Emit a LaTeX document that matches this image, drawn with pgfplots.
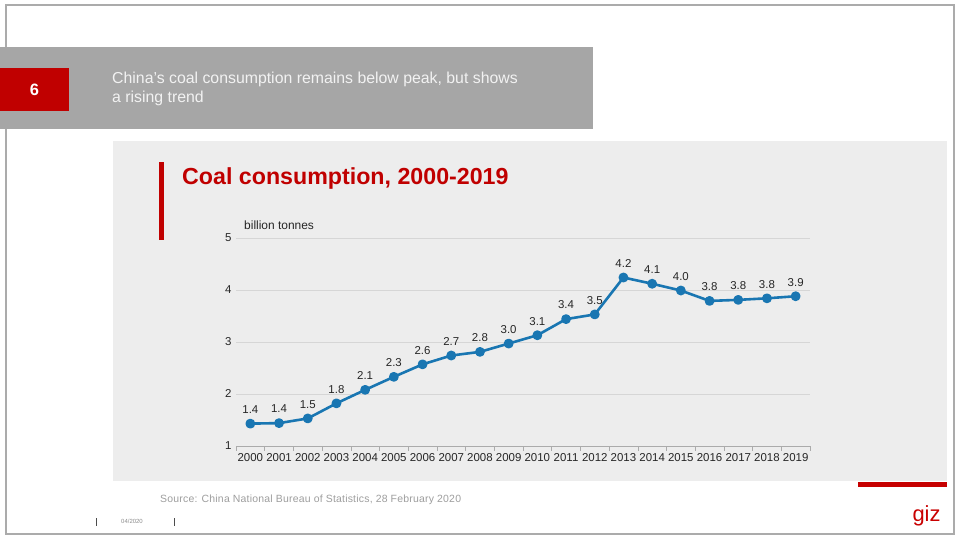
\documentclass[border=0pt]{standalone}
\usepackage{pgfplots}
\pgfplotsset{compat=1.18}
\usepackage{pgfplotstable}
\usepackage{fontspec}
\setmainfont{Liberation Sans}
\definecolor{gizred}{HTML}{C00000}
\definecolor{headgrey}{HTML}{A6A6A6}
\definecolor{panel}{HTML}{EDEDED}
\definecolor{framegrey}{HTML}{ABABAB}
\definecolor{lineblue}{RGB}{25,118,178}
\definecolor{gridgrey}{HTML}{D6D6D6}
\definecolor{txt}{HTML}{262626}
\pgfplotstableread{
x y lab
0 1.43 1.4
1 1.44 1.4
2 1.53 1.5
3 1.82 1.8
4 2.08 2.1
5 2.33 2.3
6 2.57 2.6
7 2.74 2.7
8 2.81 2.8
9 2.97 3.0
10 3.13 3.1
11 3.44 3.4
12 3.53 3.5
13 4.24 4.2
14 4.12 4.1
15 3.99 4.0
16 3.79 3.8
17 3.81 3.8
18 3.84 3.8
19 3.88 3.9
}\coal
\begin{document}
\begin{tikzpicture}[x=1bp,y=1bp]
\useasboundingbox (0,0) rectangle (960,540);
\fill[white] (0,0) rectangle (960,540);
% outer frame
\draw[framegrey, line width=1.2bp] (6,6) rectangle (954,535);
% header
\fill[headgrey] (0,410.5) rectangle (593,493);
\fill[gizred] (0,428.5) rectangle (69,472);
\node[white, font=\bfseries\fontsize{16.5}{18}\selectfont] at (34.5,450.5) {6};
\node[anchor=north west, align=left, text=white!95!black, inner sep=0pt,
      font=\fontsize{15.9}{19}\selectfont] at (112,468) {China’s coal consumption remains below peak, but shows\\a rising trend};
% panel
\fill[panel] (113,58.5) rectangle (947,399);
\fill[gizred!90!red] (858,52.5) rectangle (947,57.5);
\fill[gizred] (159,299.5) rectangle (164,377.5);
\node[anchor=base west, inner sep=0pt, text=gizred, font=\bfseries\fontsize{23.3}{27}\selectfont] at (182,355) {Coal consumption, 2000-2019};
\node[anchor=west, inner sep=0pt, text=txt, font=\fontsize{12}{14}\selectfont] at (244,315) {billion tonnes};
% footer
\node[anchor=base west, inner sep=0pt, text=black!38, font=\fontsize{10.5}{12}\selectfont] at (160,37) {\addfontfeature{LetterSpace=2}Source: China National Bureau of Statistics, 28 February 2020};
\draw[black!70, line width=0.8bp] (96,14) -- (96,22);
\draw[black!70, line width=0.8bp] (174,14) -- (174,22);
\node[text=black!45, font=\fontsize{6}{7}\selectfont] at (132,18.5) {04/2020};
\node[anchor=base, text=gizred!85!red, font=\fontsize{22}{24}\selectfont] at (926.5,18) {giz};
\coordinate (axorig) at (236,94);
\begin{axis}[
  scale only axis, width=574bp, height=208bp,
  at={(axorig)}, anchor=south west,
  xmin=-0.5, xmax=19.5, ymin=1, ymax=5,
  xtick={0,...,19},
  xticklabels={2000,2001,2002,2003,2004,2005,2006,2007,2008,2009,2010,2011,2012,2013,2014,2015,2016,2017,2018,2019},
  ytick={1,2,3,4,5},
  major tick length=0pt,
  extra x ticks={-0.5,0.5,...,19.5},
  extra x tick labels={},
  extra x tick style={major tick length=5bp, tick align=outside, xtick pos=bottom, grid=none, tick style={gridgrey!80!black, line width=0.6bp}},
  xtick pos=bottom, ytick pos=left,
  axis line style={draw=none},
  ymajorgrids, grid style={gridgrey, line width=0.7bp},
  tick label style={text=txt, font=\fontsize{11.5}{13}\selectfont, /pgf/number format/assume math mode=true},
  xticklabel style={yshift=-3.5bp},
  yticklabel style={xshift=-1bp},
  clip=false,
]
\addplot[draw=gridgrey!80!black, line width=0.7bp, forget plot] coordinates {(-0.5,1) (19.5,1)};
\addplot[lineblue, line width=2.6bp, line join=round, mark=*, mark size=3.6bp, mark options={fill=lineblue, draw=none, solid},
  nodes near coords, point meta=explicit symbolic,
  every node near coord/.append style={text=txt, font=\fontsize{11.5}{13}\selectfont, anchor=south, yshift=5.5bp}]
  table[x=x, y=y, meta=lab] {\coal};
\end{axis}
\end{tikzpicture}
\end{document}
